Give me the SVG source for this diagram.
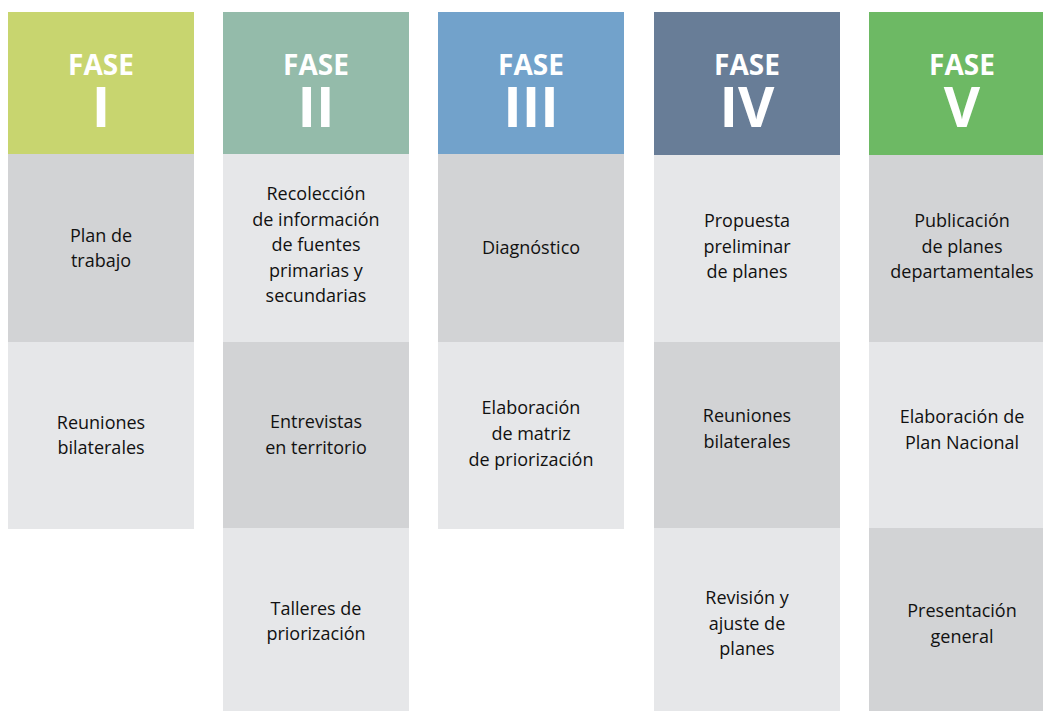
<svg xmlns="http://www.w3.org/2000/svg" width="1043" height="711" viewBox="0 0 1043 711">
<style>
.h{font-family:"Open Sans","Liberation Sans",sans-serif;font-weight:bold;fill:#fff;text-anchor:middle}
.f{font-size:28px}
.n{font-size:56px}
.t{font-family:"Open Sans","Liberation Sans",sans-serif;font-size:18px;fill:#111;text-anchor:middle}
.d{fill:#d2d3d5}
.l{fill:#e6e7e9}
</style>
<rect width="1043" height="711" fill="#fff"/>
<g id="fase1">
<rect x="8" y="12" width="186" height="142" fill="#c8d56f"/>
<text class="h f" x="101" y="75">FASE</text>
<text class="h n" x="101" y="127">I</text>
<rect class="d" x="8" y="154" width="186" height="188"/>
<text class="t" x="101" y="242">Plan de</text>
<text class="t" x="101" y="267">trabajo</text>
<rect class="l" x="8" y="342" width="186" height="187"/>
<text class="t" x="101" y="429">Reuniones</text>
<text class="t" x="101" y="454">bilaterales</text>
</g>
<g id="fase2">
<rect x="223" y="12" width="186" height="142" fill="#94bbaa"/>
<text class="h f" x="316" y="75">FASE</text>
<text class="h n" x="316" y="127">II</text>
<rect class="l" x="223" y="154" width="186" height="188"/>
<text class="t" x="316" y="200">Recolección</text>
<text class="t" x="316" y="226">de información</text>
<text class="t" x="316" y="251">de fuentes</text>
<text class="t" x="316" y="277">primarias y</text>
<text class="t" x="316" y="302">secundarias</text>
<rect class="d" x="223" y="342" width="186" height="186"/>
<text class="t" x="316" y="428">Entrevistas</text>
<text class="t" x="316" y="454">en territorio</text>
<rect class="l" x="223" y="528" width="186" height="183"/>
<text class="t" x="316" y="615">Talleres de</text>
<text class="t" x="316" y="640">priorización</text>
</g>
<g id="fase3">
<rect x="438" y="12" width="186" height="142" fill="#72a2cb"/>
<text class="h f" x="531" y="75">FASE</text>
<text class="h n" x="531" y="127">III</text>
<rect class="d" x="438" y="154" width="186" height="188"/>
<text class="t" x="531" y="254">Diagnóstico</text>
<rect class="l" x="438" y="342" width="186" height="187"/>
<text class="t" x="531" y="414">Elaboración</text>
<text class="t" x="531" y="440">de matriz</text>
<text class="t" x="531" y="466">de priorización</text>
</g>
<g id="fase4">
<rect x="654" y="12" width="186" height="143" fill="#687d97"/>
<text class="h f" x="747" y="75">FASE</text>
<text class="h n" x="747" y="127">IV</text>
<rect class="l" x="654" y="155" width="186" height="187"/>
<text class="t" x="747" y="227">Propuesta</text>
<text class="t" x="747" y="253">preliminar</text>
<text class="t" x="747" y="278">de planes</text>
<rect class="d" x="654" y="342" width="186" height="186"/>
<text class="t" x="747" y="422">Reuniones</text>
<text class="t" x="747" y="448">bilaterales</text>
<rect class="l" x="654" y="528" width="186" height="183"/>
<text class="t" x="747" y="604">Revisión y</text>
<text class="t" x="747" y="630">ajuste de</text>
<text class="t" x="747" y="655">planes</text>
</g>
<g id="fase5">
<rect x="869" y="12" width="186" height="143" fill="#6db964"/>
<text class="h f" x="962" y="75">FASE</text>
<text class="h n" x="962" y="127">V</text>
<rect class="d" x="869" y="155" width="186" height="187"/>
<text class="t" x="962" y="227">Publicación</text>
<text class="t" x="962" y="253">de planes</text>
<text class="t" x="962" y="278">departamentales</text>
<rect class="l" x="869" y="342" width="186" height="186"/>
<text class="t" x="962" y="423">Elaboración de</text>
<text class="t" x="962" y="449">Plan Nacional</text>
<rect class="d" x="869" y="528" width="186" height="183"/>
<text class="t" x="962" y="617">Presentación</text>
<text class="t" x="962" y="643">general</text>
</g>
<g id="connectors"/>
</svg>
